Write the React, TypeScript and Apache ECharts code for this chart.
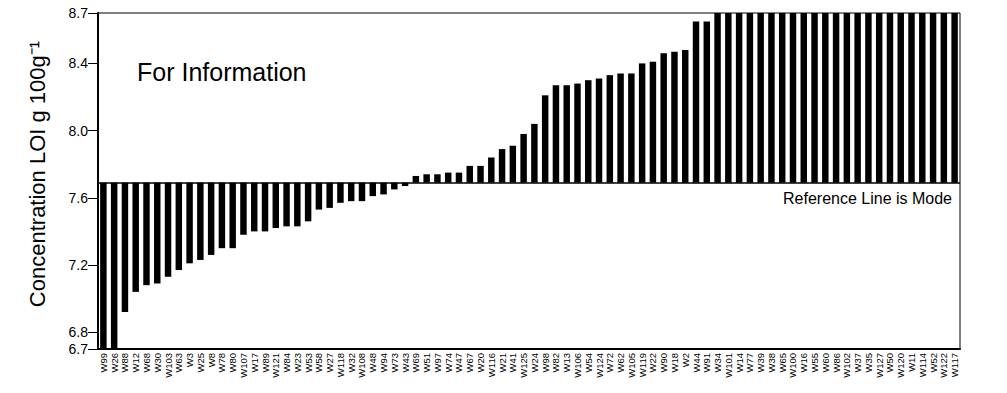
import React, { useEffect, useRef } from "react";
import * as echarts from "echarts";

const categories = [
  "W99", "W26", "W88", "W12", "W68", "W30", "W103", "W63", "W3", "W25",
  "W8", "W78", "W80", "W107", "W17", "W89", "W121", "W84", "W23", "W53",
  "W58", "W27", "W118", "W32", "W108", "W48", "W94", "W73", "W43", "W69",
  "W51", "W97", "W74", "W47", "W67", "W20", "W116", "W21", "W41", "W125",
  "W24", "W98", "W82", "W13", "W106", "W54", "W124", "W72", "W62", "W105",
  "W119", "W22", "W90", "W18", "W2", "W44", "W91", "W34", "W101", "W14",
  "W77", "W39", "W38", "W65", "W100", "W16", "W55", "W60", "W86", "W102",
  "W37", "W35", "W127", "W50", "W120", "W11", "W114", "W52", "W122", "W117",
];

const values = [
  6.66, 6.69, 6.92, 7.04, 7.08, 7.09, 7.13, 7.17, 7.21, 7.23,
  7.26, 7.3, 7.3, 7.38, 7.4, 7.4, 7.42, 7.43, 7.43, 7.46,
  7.53, 7.54, 7.57, 7.58, 7.58, 7.61, 7.62, 7.65, 7.67, 7.73,
  7.74, 7.74, 7.75, 7.75, 7.79, 7.79, 7.84, 7.89, 7.91, 7.98,
  8.04, 8.21, 8.27, 8.27, 8.28, 8.3, 8.31, 8.33, 8.34, 8.34,
  8.4, 8.41, 8.46, 8.47, 8.48, 8.65, 8.65, 8.72, 8.74, 8.76,
  8.8, 8.83, 8.86, 8.9, 8.93, 8.97, 9.0, 9.05, 9.1, 9.15,
  9.2, 9.3, 9.4, 9.5, 9.6, 9.75, 9.9, 10.1, 10.4, 10.8,
];

const modeValue = 7.69;
const yTickValues = [6.7, 6.8, 7.2, 7.6, 8.0, 8.4, 8.7];
const yMin = 6.7;
const yMax = 8.7;

const FONT = "'Liberation Sans', Arial, sans-serif";

export default function App() {
  const ref = useRef<HTMLDivElement>(null);

  useEffect(() => {
    if (!ref.current) return;
    const chart = echarts.init(ref.current, undefined, { renderer: "svg" });
    chart.setOption({
      animation: false,
      backgroundColor: "#fff",
      textStyle: { fontFamily: FONT, color: "#000" },
      grid: {
        left: 98,
        right: 47,
        top: 13,
        bottom: 44,
        show: true,
        borderColor: "#000",
        borderWidth: 1,
      },
      xAxis: {
        type: "category",
        data: categories,
        boundaryGap: true,
        axisLine: { show: true, lineStyle: { color: "#000", width: 2 } },
        axisTick: { show: false },
        axisLabel: {
          interval: 0,
          rotate: 90,
          fontSize: 9.5,
          margin: 4,
          color: "#000",
          fontFamily: FONT,
        },
        splitLine: { show: false },
      },
      yAxis: {
        type: "value",
        min: yMin,
        max: yMax,
        axisLine: { show: true, lineStyle: { color: "#000", width: 2 } },
        axisTick: {
          show: true,
          customValues: yTickValues,
          length: 10,
          lineStyle: { color: "#000", width: 1 },
        },
        axisLabel: {
          customValues: yTickValues,
          formatter: (v: number) => v.toFixed(1),
          fontSize: 14,
          margin: 10,
          color: "#000",
          fontFamily: FONT,
        },
        splitLine: { show: false },
      },
      series: [
        {
          type: "custom",
          name: "LOI",
          data: values.map((v, i) => [i, v]),
          encode: { x: 0, y: 1 },
          renderItem: (params: any, api: any) => {
            const idx = api.value(0);
            const v = api.value(1);
            const top = api.coord([idx, v]);
            const base = api.coord([idx, modeValue]);
            const w = api.size([1, 0])[0] * 0.6;
            const cs = params.coordSys;
            let y1 = Math.min(top[1], base[1]);
            let y2 = Math.max(top[1], base[1]);
            y1 = Math.max(y1, cs.y);
            y2 = Math.min(y2, cs.y + cs.height);
            return {
              type: "rect",
              shape: { x: top[0] - w / 2, y: y1, width: w, height: Math.max(0, y2 - y1) },
              style: { fill: "#000" },
            };
          },
          markLine: {
            silent: true,
            symbol: "none",
            lineStyle: { color: "#000", width: 1.5, type: "solid" },
            label: { show: false },
            data: [{ yAxis: modeValue }],
          },
          z: 2,
        },
      ],
      graphic: [
        {
          type: "text",
          x: 37,
          y: 174,
          rotation: Math.PI / 2,
          style: {
            text: "Concentration LOI g 100g\u207B\u00B9",
            font: `22px ${FONT}`,
            fill: "#000",
            textAlign: "center",
            textVerticalAlign: "middle",
          },
        },
        {
          type: "text",
          x: 137,
          y: 72,
          style: {
            text: "For Information",
            font: `25px ${FONT}`,
            fill: "#000",
            textAlign: "left",
            textVerticalAlign: "middle",
          },
        },
        {
          type: "text",
          x: 952,
          y: 198,
          style: {
            text: "Reference Line is Mode",
            font: `16px ${FONT}`,
            fill: "#000",
            textAlign: "right",
            textVerticalAlign: "middle",
          },
        },
      ],
    });
    return () => chart.dispose();
  }, []);

  return (
    <div
      ref={ref}
      style={{ position: "absolute", left: 0, top: 0, width: 1007, height: 393 }}
    />
  );
}
